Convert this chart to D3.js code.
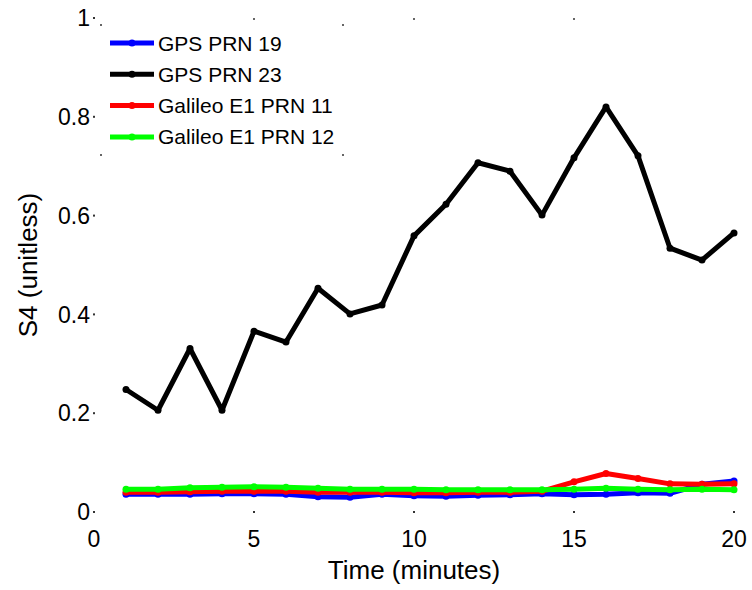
<!DOCTYPE html>
<html>
<head>
<meta charset="utf-8">
<script src="https://cdn.jsdelivr.net/npm/d3@7"></script>
<style>
  body { margin: 0; background: #fff; }
  svg { display: block; font-family: "Liberation Sans", Arial, sans-serif; }
</style>
</head>
<body>
<div id="chart"></div>
<script>
// S4 index over time, per satellite

const minutes = d3.range(1, 21);
const xTicks = [0, 5, 10, 15, 20];
const yTicks = [0, 0.2, 0.4, 0.6, 0.8, 1];

const gps19 = [0.036, 0.036, 0.036, 0.037, 0.037, 0.036, 0.031, 0.030, 0.036, 0.033,
               0.032, 0.034, 0.035, 0.037, 0.035, 0.036, 0.039, 0.038, 0.056, 0.063];
const gps23 = [0.248, 0.206, 0.331, 0.206, 0.366, 0.344, 0.453, 0.401, 0.419, 0.559,
               0.623, 0.707, 0.690, 0.601, 0.717, 0.820, 0.721, 0.534, 0.510, 0.565];
const gal11 = [0.040, 0.040, 0.041, 0.042, 0.042, 0.042, 0.040, 0.040, 0.040, 0.039,
               0.039, 0.040, 0.040, 0.042, 0.061, 0.078, 0.068, 0.057, 0.056, 0.057];
const gal12 = [0.046, 0.046, 0.049, 0.050, 0.051, 0.050, 0.048, 0.046, 0.046, 0.046,
               0.045, 0.045, 0.045, 0.045, 0.046, 0.048, 0.046, 0.045, 0.046, 0.045];

const seriesNames = ["GPS PRN 19", "GPS PRN 23", "Galileo E1 PRN 11", "Galileo E1 PRN 12"];
const seriesColors = ["#0000ff", "#000000", "#ff0000", "#00ff00"];

document.addEventListener("DOMContentLoaded", function () {
    const width = 752;
    const height = 590;
    const margin = { top: 18, right: 18, bottom: 78, left: 94 };

    const series = [gps19, gps23, gal11, gal12].map((vals, i) => ({
        name: seriesNames[i],
        color: seriesColors[i],
        values: vals.map((v, j) => ({ t: minutes[j], v: v }))
    }));

    const svg = d3.select("#chart")
        .append("svg")
        .attr("width", width)
        .attr("height", height);

    const x = d3.scaleLinear()
        .domain([0, 20])
        .range([margin.left, width - margin.right]);

    const y = d3.scaleLinear()
        .domain([0, 1])
        .range([height - margin.bottom, margin.top]);

    // tick marks show up only as tiny dots
    const tickDot = "#333";
    svg.append("g")
        .selectAll("rect")
        .data(yTicks)
        .join("rect")
        .attr("x", x(0) - 1)
        .attr("y", d => y(d) - 1)
        .attr("width", 2)
        .attr("height", 2)
        .attr("fill", tickDot);

    svg.append("g")
        .selectAll("rect")
        .data(xTicks)
        .join("rect")
        .attr("x", d => x(d) - 1)
        .attr("y", y(0) - 1)
        .attr("width", 2)
        .attr("height", 2)
        .attr("fill", tickDot);

    svg.append("g")
        .selectAll("rect")
        .data(xTicks.slice(1, 4))
        .join("rect")
        .attr("x", d => x(d) - 1)
        .attr("y", y(1))
        .attr("width", 2)
        .attr("height", 2)
        .attr("fill", "#666");

    // tick labels
    svg.append("g")
        .attr("font-size", "23px")
        .attr("text-anchor", "end")
        .selectAll("text")
        .data(yTicks)
        .join("text")
        .attr("x", x(0) - 4)
        .attr("y", d => y(d))
        .attr("dy", "0.36em")
        .text(d => d === 0 || d === 1 ? d : d3.format(".1f")(d));

    svg.append("g")
        .attr("font-size", "23px")
        .attr("text-anchor", "middle")
        .selectAll("text")
        .data(xTicks)
        .join("text")
        .attr("x", d => x(d))
        .attr("y", y(0) + 35)
        .text(d => d);

    // axis labels
    svg.append("text")
        .attr("x", x(10))
        .attr("y", 579)
        .attr("text-anchor", "middle")
        .attr("font-size", "26px")
        .text("Time (minutes)");

    svg.append("text")
        .attr("transform", `translate(37,${(y(0) + y(1)) / 2}) rotate(-90)`)
        .attr("text-anchor", "middle")
        .attr("font-size", "26px")
        .text("S4 (unitless)");

    // lines + markers
    const line = d3.line()
        .x(d => x(d.t))
        .y(d => y(d.v));

    const g = svg.append("g")
        .selectAll("g")
        .data(series)
        .join("g");

    g.append("path")
        .attr("d", d => line(d.values))
        .attr("fill", "none")
        .attr("stroke", d => d.color)
        .attr("stroke-width", 5)
        .attr("stroke-linejoin", "round");

    g.selectAll("circle")
        .data(d => d.values.map(p => ({ ...p, color: d.color })))
        .join("circle")
        .attr("cx", d => x(d.t))
        .attr("cy", d => y(d.v))
        .attr("r", 3.5)
        .attr("fill", d => d.color);

    // legend (box border only visible at its corners)
    const legend = svg.append("g")
        .attr("transform", "translate(101,25)");

    [[0, 0], [242, 0], [0, 130], [242, 130]].forEach(c => {
        legend.append("rect")
            .attr("x", c[0] - 1)
            .attr("y", c[1] - 1)
            .attr("width", 2)
            .attr("height", 2)
            .attr("fill", "#666");
    });

    series.forEach((s, i) => {
        const ly = 18 + i * 31.3;
        legend.append("line")
            .attr("x1", 9)
            .attr("x2", 53)
            .attr("y1", ly)
            .attr("y2", ly)
            .attr("stroke", s.color)
            .attr("stroke-width", 5);

        legend.append("circle")
            .attr("cx", 31)
            .attr("cy", ly)
            .attr("r", 3.5)
            .attr("fill", s.color);

        legend.append("text")
            .attr("x", 57)
            .attr("y", ly)
            .attr("dy", "0.36em")
            .attr("font-size", "21px")
            .text(s.name);
    });
});
</script>
</body>
</html>
